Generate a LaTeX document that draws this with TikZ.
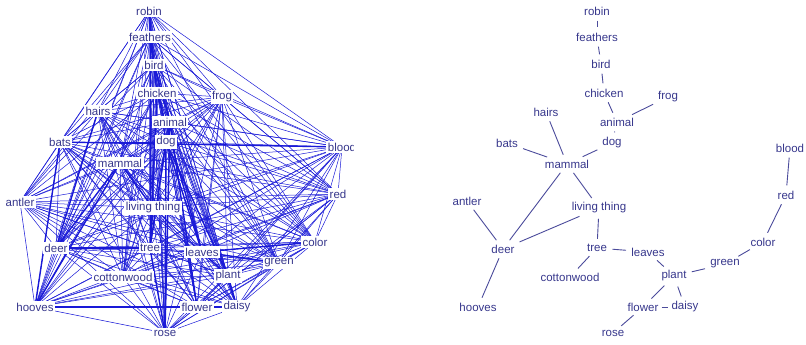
\documentclass[tikz,border=0pt]{standalone}
\usepackage{fontspec}
\setmainfont{Liberation Sans}
\definecolor{txt}{RGB}{55,55,140}
\definecolor{tline}{RGB}{75,75,155}
\definecolor{gblue}{RGB}{25,25,215}
\begin{document}
\begin{tikzpicture}[x=1pt,y=-1pt,
  lab/.style={text=txt,font=\fontsize{11.5}{12}\selectfont,inner sep=1.2pt},
  llab/.style={lab,fill=white,inner sep=1.5pt},
  gline/.style={draw=gblue,line width=0.5pt},
  gthick/.style={draw=gblue,line width=1.4pt},
  tedge/.style={draw=tline,line width=0.9pt,shorten <=4pt,shorten >=4pt}]
\useasboundingbox (0,0) rectangle (806,345);
\def\names{robin,feathers,bird,chicken,frog,hairs,animal,bats,dog,blood,mammal,antler,living,red,deer,tree,leaves,color,green,cottonwood,plant,hooves,flower,daisy,rose}
% ---------- left panel ----------
\begin{scope}
\clip (0,0) rectangle (353,345);
\foreach \n/\x/\y in {robin/149/11,feathers/150/37,bird/154/65,chicken/157/93,frog/222/97,hairs/98/111,animal/170/122,bats/60/142,dog/166/142,blood/342/147,mammal/120/163,antler/20/202,living/153/208,red/338/194,deer/56/248,tree/150/248,leaves/202/252,color/315/242,green/279/263,cottonwood/123/277,plant/228/276,hooves/35/307,flower/197/307,daisy/237/307,rose/165/333}
  {\coordinate (L\n) at (\x,\y);}
\foreach \a [count=\i] in \names {
  \foreach \b [count=\j] in \names {
    \ifnum\j>\i \draw[gline] (L\a) -- (L\b); \fi
  }
}
\foreach \a/\b in {deer/tree,leaves/color,bats/blood,hooves/daisy,dog/tree,dog/rose,animal/rose,dog/leaves,dog/plant,chicken/tree,mammal/deer,living/tree,tree/rose,leaves/plant,animal/flower,hairs/deer,bats/hooves,mammal/hooves,robin/bird,feathers/chicken,bird/animal,leaves/green,plant/daisy,mammal/living,chicken/leaves}
  {\draw[gthick] (L\a) -- (L\b);}
\foreach \n/\t in {robin/robin,feathers/feathers,bird/bird,chicken/chicken,frog/frog,hairs/hairs,animal/animal,bats/bats,dog/dog,blood/blood,mammal/mammal,antler/antler,living/living thing,red/red,deer/deer,tree/tree,leaves/leaves,color/color,green/green,cottonwood/cottonwood,plant/plant,hooves/hooves,flower/flower,daisy/daisy,rose/rose}
  {\node[llab] (LT\n) at (L\n) {\t};}
\end{scope}
% ---------- right panel ----------
\foreach \n/\x/\y/\t in {robin/597/11/robin,feathers/597/37/feathers,bird/601/64/bird,chicken/604/93/chicken,frog/668/97/frog,hairs/546/112/hairs,animal/617/122/animal,bats/507/143/bats,dog/612/143/dog,blood/790/148/blood,mammal/567/164/mammal,antler/467/201/antler,living/599/208/living thing,red/786/195/red,deer/503/249/deer,tree/597/248/tree,leaves/648/252/leaves,color/763/242/color,green/725/264/green,cottonwood/570/277/cottonwood,plant/674/276/plant,hooves/478/307/hooves,flower/643/307/flower,daisy/685/307/daisy,rose/613/333/rose}
  {\node[lab] (R\n) at (\x,\y) {\t};}
\foreach \a/\b in {robin/feathers,feathers/bird,bird/chicken,chicken/animal,animal/frog,animal/dog,dog/mammal,hairs/mammal,bats/mammal,mammal/deer,mammal/living,living/deer,antler/deer,deer/hooves,living/tree,tree/leaves,tree/cottonwood,leaves/plant,plant/flower,plant/daisy,flower/rose,plant/green,green/color,color/red,red/blood}
  {\draw[tedge] (R\a) -- (R\b);}
\draw[draw=tline,line width=0.9pt,shorten <=2pt,shorten >=2pt] (Rflower) -- (Rdaisy);
\end{tikzpicture}
\end{document}
